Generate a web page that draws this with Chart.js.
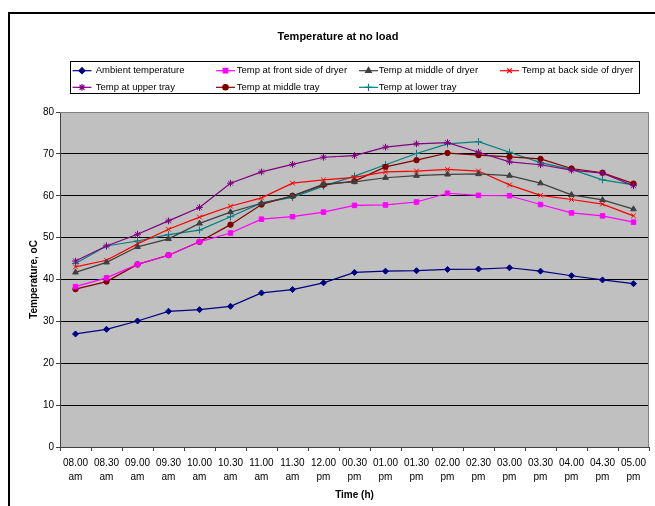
<!DOCTYPE html>
<html>
<head>
<meta charset="utf-8">
<script src="https://cdn.jsdelivr.net/npm/chart.js@4/dist/chart.umd.min.js"></script>
<style>
html,body{margin:0;padding:0;background:#fff;}
#wrap{position:relative;width:655px;height:506px;}
</style>
</head>
<body>
<div id="wrap"><canvas id="c" width="655" height="506"></canvas></div>
<script>
const categories = [
  ["08.00","am"],["08.30","am"],["09.00","am"],["09.30","am"],["10.00","am"],["10.30","am"],
  ["11.00","am"],["11.30","am"],["12.00","pm"],["00.30","pm"],["01.00","pm"],["01.30","pm"],
  ["02.00","pm"],["02.30","pm"],["03.00","pm"],["03.30","pm"],["04.00","pm"],["04.30","pm"],["05.00","pm"]
];
const ambient     = [27.0,28.1,30.1,32.4,32.8,33.6,36.8,37.6,39.2,41.7,42.0,42.1,42.4,42.5,42.8,42.0,40.9,39.9,39.0];
const frontSide   = [38.3,40.4,43.6,45.8,49.0,51.1,54.4,55.0,56.1,57.7,57.8,58.5,60.6,60.1,60.0,57.9,55.9,55.2,53.7];
const middleDryer = [41.7,44.1,47.8,49.7,53.4,56.1,58.2,59.9,62.8,63.3,64.3,64.8,65.1,65.2,64.8,63.0,60.2,59.0,56.8];
const backSide    = [43.0,44.6,48.5,52.0,54.9,57.5,59.5,63.0,63.8,64.4,65.7,65.9,66.3,65.9,62.6,60.1,59.1,58.0,55.2];
const upperTray   = [44.4,48.0,50.8,54.0,57.2,63.0,65.7,67.5,69.2,69.6,71.6,72.4,72.7,70.4,68.1,67.4,66.1,65.4,62.4];
const middleTray  = [37.7,39.5,43.6,45.8,49.0,53.1,57.9,60.0,62.6,63.5,66.9,68.5,70.2,69.7,69.3,68.8,66.5,65.5,62.9];
const lowerTray   = [43.8,48.0,49.2,50.7,51.8,55.0,58.3,59.6,62.3,64.7,67.4,70.1,72.4,72.9,70.4,67.9,66.3,63.8,62.6];
const yTicks = [0,10,20,30,40,50,60,70,80];

const FONT = "'Liberation Sans', Arial, sans-serif";

function ds(label, data, color, style, radius) {
  return {
    label, data,
    borderColor: color, backgroundColor: color,
    pointBackgroundColor: color, pointBorderColor: color,
    pointStyle: style, pointRadius: radius, pointBorderWidth: 1,
    borderWidth: 1.2, tension: 0, fill: false
  };
}

const datasets = [
  ds("Ambient temperature", ambient, "#000080", "rectRot", 3),
  ds("Temp at front side of dryer", frontSide, "#FF00FF", "rect", 3.2),
  ds("Temp at middle of dryer", middleDryer, "#404040", "triangle", 3.3),
  ds("Temp at back side of dryer", backSide, "#FF0000", "crossRot", 3.3),
  ds("Temp at upper tray", upperTray, "#800080", "star", 3.4),
  ds("Temp at middle tray", middleTray, "#800000", "circle", 2.7),
  ds("Temp at lower tray", lowerTray, "#008080", "cross", 3.6)
];

const deco = {
  id: 'deco',
  beforeDraw(chart) {
    const ctx = chart.ctx, a = chart.chartArea;
    ctx.save();
    ctx.fillStyle = '#fff';
    ctx.fillRect(0,0,chart.width,chart.height);
    ctx.fillStyle = '#C0C0C0';
    ctx.fillRect(a.left, a.top, a.right - a.left, a.bottom - a.top);
    ctx.restore();
  },
  beforeDatasetsDraw(chart) {
    const ctx = chart.ctx, a = chart.chartArea;
    ctx.save();
    ctx.strokeStyle = '#808080';
    ctx.lineWidth = 1;
    ctx.beginPath();
    ctx.moveTo(a.left, Math.round(a.top) + 0.5);
    ctx.lineTo(a.right - 0.5, Math.round(a.top) + 0.5);
    ctx.lineTo(a.right - 0.5, a.bottom);
    ctx.stroke();
    ctx.restore();
  },
  afterDraw(chart) {
    const ctx = chart.ctx;
    ctx.save();
    ctx.strokeStyle = '#000';
    ctx.lineWidth = 2;
    ctx.strokeRect(9, 13, 800, 700);
    ctx.fillStyle = '#000';
    ctx.font = "bold 11px " + FONT;
    ctx.textAlign = 'center';
    ctx.textBaseline = 'middle';
    ctx.fillText("Temperature at no load", 338, 37);
    ctx.lineWidth = 1;
    ctx.strokeRect(70.5, 61.5, 569, 32);
    const lineX = [72.5, 216, 359, 500];
    const textX = [95.7, 236.7, 378.8, 521.7];
    const rows = [70.7, 87.3];
    ctx.font = "9.5px " + FONT;
    ctx.textAlign = 'left';
    chart.data.datasets.forEach((d, i) => {
      const col = i % 4, row = Math.floor(i / 4);
      const x0 = lineX[col], y = rows[row];
      ctx.strokeStyle = d.borderColor;
      ctx.fillStyle = d.pointBackgroundColor;
      ctx.lineWidth = 1.2;
      ctx.beginPath();
      ctx.moveTo(x0, y);
      ctx.lineTo(x0 + 19, y);
      ctx.stroke();
      Chart.helpers.drawPoint(ctx, {pointStyle: d.pointStyle, radius: d.pointRadius, rotation: 0, borderWidth: 1}, x0 + 9.5, y);
      ctx.fillStyle = '#000';
      ctx.fillText(d.label, textX[col], y);
    });
    ctx.restore();
  }
};

new Chart(document.getElementById('c'), {
  type: 'line',
  data: { labels: categories, datasets },
  plugins: [deco],
  options: {
    responsive: false,
    animation: false,
    devicePixelRatio: 1,
    layout: { padding: { left: 0, top: 112, right: 6, bottom: 0 } },
    plugins: { legend: { display: false }, title: { display: false }, tooltip: { enabled: false } },
    scales: {
      x: {
        type: 'category',
        offset: true,
        afterFit(s) { s.height = 59; },
        grid: { display: true, drawOnChartArea: false, drawTicks: true, tickLength: 4, offset: true, color: '#404040', tickColor: '#404040' },
        border: { display: true, color: '#404040', width: 1 },
        ticks: { color: '#000', font: { family: FONT, size: 10, lineHeight: 1.4 }, padding: 5, maxRotation: 0, autoSkip: false },
        title: { display: true, text: 'Time (h)', color: '#000', font: { family: FONT, size: 10, weight: 'bold', lineHeight: 1.2 }, padding: { top: 0, bottom: 5 } }
      },
      y: {
        min: 0, max: 80,
        afterFit(s) { s.width = 60; },
        afterBuildTicks(s) { s.ticks = yTicks.map(v => ({ value: v })); },
        grid: {
          drawTicks: true, tickLength: 4,
          color: c => (c.tick && (c.tick.value === 0 || c.tick.value === 80)) ? 'rgba(0,0,0,0)' : '#000',
          tickColor: '#404040'
        },
        border: { display: true, color: '#404040', width: 1 },
        ticks: { color: '#000', font: { family: FONT, size: 10 }, padding: 2, stepSize: 10 },
        title: { display: true, text: 'Temperature, oC', color: '#000', font: { family: FONT, size: 10, weight: 'bold', lineHeight: 1.2 }, padding: { top: 28, bottom: 0 } }
      }
    }
  }
});
</script>
</body>
</html>
